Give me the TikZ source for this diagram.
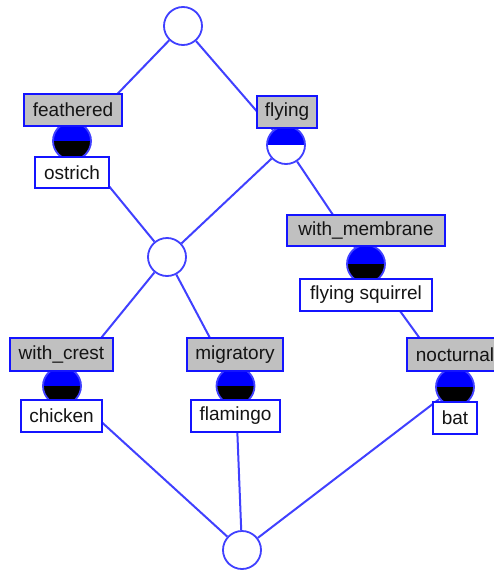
\documentclass[tikz,border=0pt]{standalone}
\usepackage{fontspec}
\setmainfont{Liberation Sans}
\definecolor{edgeblue}{RGB}{64,64,255}
\definecolor{boxblue}{RGB}{20,20,255}
\definecolor{attrgray}{RGB}{192,192,192}
\definecolor{txt}{RGB}{20,20,20}
\begin{document}
\begin{tikzpicture}[x=1pt,y=1pt,
  edge/.style={draw=edgeblue,line width=2pt},
  conc/.style={circle,draw=edgeblue,line width=1.8pt,fill=white,minimum size=38pt,inner sep=0pt},
  full/.style={conc,fill=blue,path picture={\fill[black] (path picture bounding box.west) rectangle (path picture bounding box.south east);}},
  attronly/.style={conc,fill=white,path picture={\fill[blue] (path picture bounding box.west) rectangle (path picture bounding box.north east);}},
  lbl/.style={rectangle,draw=boxblue,line width=1.8pt,inner sep=0pt,text=txt,font=\fontsize{19}{21}\selectfont},
  attr/.style={lbl,fill=attrgray},
  obj/.style={lbl,fill=white}]
\clip (0,0) rectangle (494,-570);
\useasboundingbox (0,0) rectangle (494,-570);
% concepts
\node[conc] (top) at (183,-26) {};
\node[full] (cfea) at (72,-141) {};
\node[attronly] (cfly) at (286,-145) {};
\node[conc] (mid) at (167,-257) {};
\node[full] (cmem) at (366,-264) {};
\node[full] (ccre) at (62,-386) {};
\node[full] (cmig) at (235.5,-386) {};
\node[full] (cnoc) at (455,-387) {};
\node[conc] (bot) at (242,-550) {};
% edges
\draw[edge] (top) -- (cfea);
\draw[edge] (top) -- (cfly);
\draw[edge] (cfea) -- (mid);
\draw[edge] (cfly) -- (mid);
\draw[edge] (cfly) -- (cmem);
\draw[edge] (mid) -- (ccre);
\draw[edge] (mid) -- (cmig);
\draw[edge] (cmem) -- (cnoc);
\draw[edge] (ccre) -- (bot);
\draw[edge] (cmig) -- (bot);
\draw[edge] (cnoc) -- (bot);
% labels
\node[attr,minimum width=98pt,minimum height=32pt] (lfea) at (73,-110) {feathered};
\node[obj,minimum width=74pt,minimum height=31pt] (lost) at (72,-172.5) {ostrich};
\node[attr,minimum width=60pt,minimum height=32pt] (lfly) at (287,-112) {flying};
\node[attr,minimum width=158pt,minimum height=31pt] (lmem) at (366,-230.5) {with\_membrane};
\node[obj,minimum width=132pt,minimum height=32pt] (lsq) at (366,-295) {flying squirrel};
\node[attr,minimum width=103pt,minimum height=33pt] (lcre) at (61.5,-354.5) {with\_crest};
\node[obj,minimum width=81pt,minimum height=32pt] (lchi) at (61.5,-416) {chicken};
\node[attr,minimum width=96pt,minimum height=33pt] (lmig) at (235,-354.5) {migratory};
\node[obj,minimum width=89pt,minimum height=32pt] (lfla) at (235.5,-416) {flamingo};
\node[attr,minimum width=96pt,minimum height=33pt] (lnoc) at (455,-354.5) {nocturnal};
\node[obj,minimum width=44pt,minimum height=32pt] (lbat) at (455,-418) {bat};
\end{tikzpicture}
\end{document}
